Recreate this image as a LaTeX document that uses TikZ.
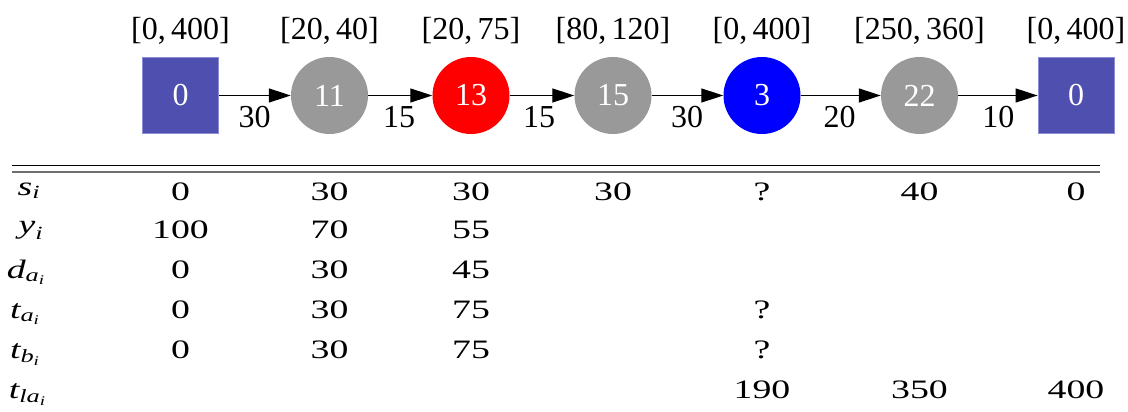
\documentclass[tikz,border=0pt]{standalone}
\usepackage{amsmath}
\usepackage{fontspec}
\setmainfont{Liberation Serif}
\newfontfamily\tabfont[FakeStretch=1.42]{Liberation Serif}
\usetikzlibrary{arrows.meta,calc}
\definecolor{sqblue}{RGB}{79,79,176}
\definecolor{sqedge}{RGB}{140,140,215}
\definecolor{nodegray}{RGB}{153,153,153}
\definecolor{rulegray}{RGB}{110,110,110}
\begin{document}
\begin{tikzpicture}[x=1pt,y=-1pt,
  big/.style={font=\fontsize{32}{32}\selectfont},
  small/.style={font=\tabfont\fontsize{26.6}{26.6}\selectfont},
  depot/.style={big, rectangle, fill=sqblue, draw=sqedge, line width=0.8pt, minimum size=76pt, inner sep=0pt, text=white},
  cust/.style={big, circle, minimum size=77pt, inner sep=0pt, text=white},
  edge/.style={line width=1.3pt, -{Triangle[length=22pt,width=14pt]}},
  elab/.style={big, anchor=base east, inner sep=0pt},
  tw/.style={big, anchor=base, inner sep=0pt},
  cell/.style={small, anchor=base, inner sep=0pt},
  rlab/.style={small, anchor=base, inner sep=0pt},
]
\useasboundingbox (0,0) rectangle (1128,412);

% graph nodes
\node[depot] (n1) at (180.5,95.5) {0};
\node[cust, fill=nodegray] (n2) at (329.5,95.5) {11};
\node[cust, fill=red] (n3) at (471,95.5) {13};
\node[cust, fill=nodegray] (n4) at (613,95.5) {15};
\node[cust, fill=blue] (n5) at (762,95.5) {3};
\node[cust, fill=nodegray] (n6) at (919.5,95.5) {22};
\node[depot] (n7) at (1076,95.5) {0};

% time windows
\node[tw] (w1) at (180.5,40) {[0,\,400]};
\node[tw] (w2) at (329.5,40) {[20,\,40]};
\node[tw] (w3) at (471,40) {[20,\,75]};
\node[tw] (w4) at (613,40) {[80,\,120]};
\node[tw] (w5) at (762,40) {[0,\,400]};
\node[tw] (w6) at (919.5,40) {[250,\,360]};
\node[tw] (w7) at (1076,40) {[0,\,400]};

% edges
\draw[edge] (n1) -- (n2);
\draw[edge] (n2) -- (n3);
\draw[edge] (n3) -- (n4);
\draw[edge] (n4) -- (n5);
\draw[edge] (n5) -- (n6);
\draw[edge] (n6) -- (n7);
\node[elab] (e1) at ($(n2.west)+(-20,32.5)$) {30};
\node[elab] (e2) at ($(n3.west)+(-17,32.5)$) {15};
\node[elab] (e3) at ($(n4.west)+(-19,32.5)$) {15};
\node[elab] (e4) at ($(n5.west)+(-20,32.5)$) {30};
\node[elab] (e5) at ($(n6.west)+(-25,32.5)$) {20};
\node[elab] (e6) at ($(n7.west)+(-23,32.5)$) {10};

% table rules
\coordinate (r1a) at (12,165.5);
\coordinate (r1b) at (1100,165.5);
\coordinate (r2a) at (12,172);
\coordinate (r2b) at (1100,172);
\draw[line width=1.3pt, black] (r1a) -- (r1b);
\draw[line width=1.8pt, rulegray] (r2a) -- (r2b);

% row labels
\node[rlab] (ls) at (29,195) {$\textit{s}_{\textit{i}}$};
\node[rlab] (ly) at (31,233) {$\textit{y}_{\textit{i}}$};
\node[rlab] (ld) at (26,278) {$\textit{d}_{\textit{a}_{\textit{i}}}$};
\node[rlab] (lta) at (25,318) {$\textit{t}_{\textit{a}_{\textit{i}}}$};
\node[rlab] (ltb) at (25,358.5) {$\textit{t}_{\textit{b}_{\textit{i}}}$};
\node[rlab] (ltl) at (27.5,398) {$\textit{t}_{\textit{la}_{\textit{i}}}$};

% s row
\node[cell] (s1) at (180.5,200) {0};
\node[cell] (s2) at (329.5,200) {30};
\node[cell] (s3) at (471,200) {30};
\node[cell] (s4) at (613,200) {30};
\node[cell] (s5) at (762,200) {?};
\node[cell] (s6) at (919.5,200) {40};
\node[cell] (s7) at (1076,200) {0};
% y row
\node[cell] (y1) at (180.5,238) {100};
\node[cell] (y2) at (329.5,238) {70};
\node[cell] (y3) at (471,238) {55};
% d row
\node[cell] (d1) at (180.5,278) {0};
\node[cell] (d2) at (329.5,278) {30};
\node[cell] (d3) at (471,278) {45};
% ta row
\node[cell] (a1) at (180.5,318) {0};
\node[cell] (a2) at (329.5,318) {30};
\node[cell] (a3) at (471,318) {75};
\node[cell] (a5) at (762,318) {?};
% tb row
\node[cell] (b1) at (180.5,358.5) {0};
\node[cell] (b2) at (329.5,358.5) {30};
\node[cell] (b3) at (471,358.5) {75};
\node[cell] (b5) at (762,358.5) {?};
% tla row
\node[cell] (l5) at (762,398) {190};
\node[cell] (l6) at (919.5,398) {350};
\node[cell] (l7) at (1076,398) {400};
\end{tikzpicture}
\end{document}
